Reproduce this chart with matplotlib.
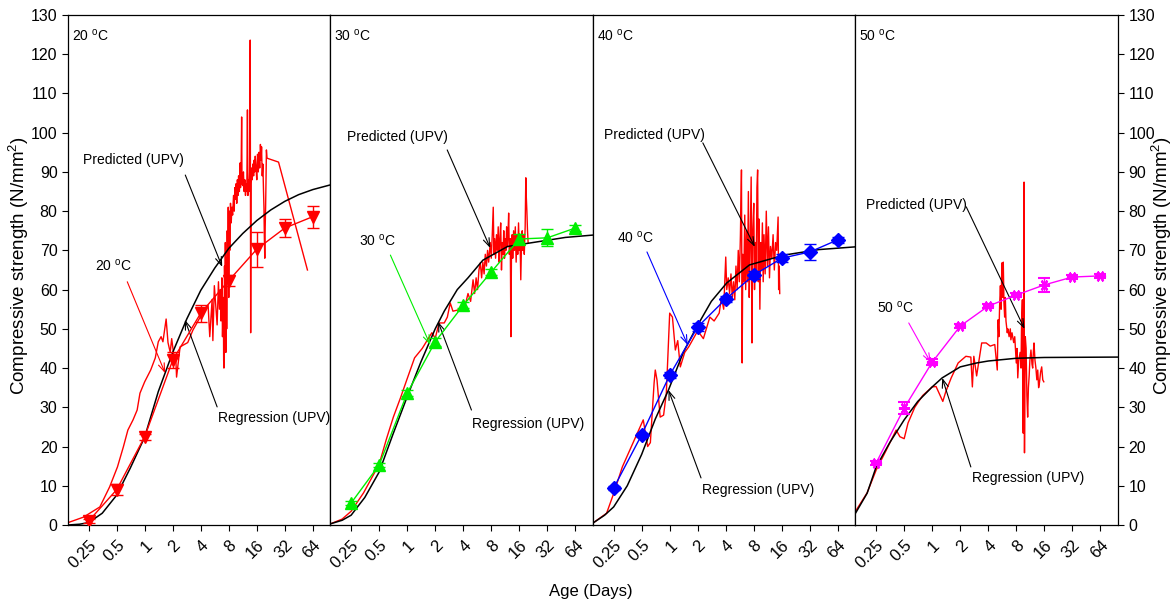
import matplotlib
matplotlib.use("Agg")
import matplotlib.pyplot as plt

plt.rcParams['font.family'] = ['Liberation Sans', 'DejaVu Sans']
plt.rcParams['mathtext.fontset'] = 'custom'
plt.rcParams['mathtext.rm'] = 'Liberation Sans'
plt.rcParams['mathtext.it'] = 'Liberation Sans:italic'

# measured cube strength (mean and spread) at each test age
test_age = [0.25, 0.5, 1, 2, 4, 8, 16, 32, 64]
cube20 = [1, 9, 22.5, 42, 54, 62.3, 70.3, 75.7, 78.6]
err20 = [0.5, 1.4, 0.8, 2.0, 2.2, 1.5, 4.5, 2.3, 2.8]
cube30 = [5.6, 15.3, 33.6, 46.7, 56, 64.5, 72.9, 73.2, 75.7]
err30 = [0.5, 0.5, 0.8, 1.0, 0.8, 0.8, 1.2, 2.2, 0.8]
cube40 = [9.4, 23, 38.2, 50.5, 57.6, 63.7, 68, 69.6, 72.7]
err40 = [0.5, 0.5, 0.8, 1.0, 0.8, 1.0, 1.0, 2.1, 0.8]
cube50 = [15.8, 29.8, 41.5, 50.7, 55.8, 58.6, 61.2, 63.2, 63.5]
err50 = [0.5, 1.5, 0.8, 0.5, 0.5, 0.5, 1.8, 0.5, 0.5]

# strength predicted from pulse velocity readings
upv20_age = [0.15, 0.22, 0.33, 0.42, 0.51, 0.59, 0.66, 0.75, 0.83, 0.89, 1.0, 1.16, 1.3,
             1.4, 1.5, 1.57, 1.7, 1.78, 1.88, 1.95, 2.1, 2.15, 2.2, 2.4, 2.9, 3.3, 3.95,
             4.4, 4.8, 5.0, 5.3, 5.4, 5.6,
             6.0, 6.2, 6.35, 6.5, 6.6, 6.75, 6.85, 7.0, 7.05, 7.1, 7.2, 7.3, 7.35, 7.45,
             7.55, 7.6, 7.7, 7.8, 7.9, 8.0, 8.1, 8.2, 8.35, 8.5, 8.65, 8.8, 9.0, 9.15,
             9.3, 9.45, 9.6, 9.75, 9.9, 10.05, 10.2, 10.4, 10.6, 10.7, 10.85, 11.0, 11.1,
             11.3, 11.5, 11.7, 11.9, 12.1, 12.3, 12.5, 12.7, 12.85, 13.0, 13.2, 13.4, 13.6,
             13.75, 13.9, 14.1, 14.3, 14.5, 14.8, 15.0, 15.2, 15.4, 15.7, 16.0, 16.3, 16.6,
             16.9, 17.2, 17.5, 17.8, 18.0, 18.3, 18.6, 18.9, 19.1, 19.3, 19.5, 19.7, 19.9,
             20.1, 20.3, 20.6, 27.4, 56]
upv20_val = [0.6, 2, 4.6, 9.7, 14.8, 19.9, 24.2, 26.8, 29.3, 33.6, 36.5, 39.5, 42.6,
             46.7, 48, 46.7, 52.5, 46.5, 44, 47.5, 41.5, 43.5, 37.7, 45.4, 46.5, 49.7, 53,
             55, 56, 48, 57.5, 47, 61,
             51, 62, 55, 60, 52, 63, 48, 58, 42, 40, 66, 55, 72, 44,
             68, 50, 75, 62, 81, 58, 80, 70, 82, 77, 81, 79, 84, 80,
             86, 83, 87, 82, 88, 84, 89, 85, 92.3, 86, 89, 104, 87,
             86.5, 90, 85, 88, 84, 87, 85, 105.8, 84, 88, 85, 90, 123.6,
             49, 87, 91, 88, 92, 89, 93, 90, 94, 91, 88, 94.5, 90,
             95, 91, 97, 93, 96.4, 89, 92, 85, 81, 73, 68, 76, 81,
             88, 95.6, 93.5, 92.5, 65]

upv30_age = [0.15, 0.2, 0.25, 0.34, 0.5, 0.6, 0.71, 0.85, 0.99, 1.2, 1.45, 1.84, 2.0, 2.2,
             2.5, 2.7, 2.9, 3.1, 3.8, 4.2, 4.5, 4.8,
             5.1, 5.3, 5.5, 5.7, 5.9, 6.1, 6.3, 6.5, 6.7, 6.9, 7.1, 7.3, 7.5, 7.8, 8.0,
             8.2, 8.4, 8.55, 8.7, 8.9, 9.1, 9.3, 9.5, 9.7, 9.9, 10.1, 10.3, 10.5, 10.7,
             10.9, 11.1, 11.3, 11.5, 11.7, 11.9, 12.1, 12.3, 12.5, 12.8, 13.0, 13.2, 13.4,
             13.6, 13.9, 14.2, 14.5, 14.8, 15.1, 15.4, 15.7, 16.0, 16.3, 16.6, 16.9, 17.2,
             17.5, 17.8, 18.1, 18.5, 18.8, 19.0, 19.3, 19.6, 19.9]
upv30_val = [0.3, 1.5, 3.5, 8.2, 15.5, 22, 27.5, 32.5, 37, 42.6, 45, 49, 47.6, 51.5,
             51.5, 53, 56.6, 54.5, 55, 56, 59, 57,
             62.5, 59, 63, 60, 65, 66.8, 63, 67, 64, 69, 66, 70, 67, 72, 68,
             74, 81, 69, 73, 68, 74, 70, 76, 67, 73, 77, 65, 72, 69,
             75, 68, 73, 70, 76, 71, 74, 79.5, 69, 73, 48, 71, 74,
             68, 75, 70, 76, 67, 74, 69, 77, 70, 73, 62.5, 72, 75,
             70, 74, 69, 76, 88.5, 84, 80, 75, 72]

upv40_age = [0.15, 0.21, 0.25, 0.31, 0.43, 0.52, 0.58, 0.62, 0.68, 0.7, 0.73, 0.79, 0.86,
             0.92, 1.0, 1.07, 1.15, 1.22, 1.3, 1.45, 1.6, 2.0, 2.3, 2.7, 3.0, 3.4, 3.6,
             3.8, 4.0, 4.1, 4.25, 4.4, 4.55, 4.7, 4.85, 5.0, 5.15, 5.3, 5.45, 5.6, 5.75,
             5.9, 6.0, 6.1, 6.25, 6.4, 6.55, 6.7, 6.85, 7.0, 7.15, 7.3, 7.5, 7.65, 7.8,
             8.0, 8.15, 8.3, 8.5, 8.65, 8.8, 8.95, 9.1, 9.3, 9.5, 9.7, 9.9, 10.1, 10.3,
             10.6, 10.9, 11.2, 11.5, 11.8, 12.1, 12.5, 12.9, 13.3, 13.7, 14.1, 14.6, 14.8,
             15.0, 15.2]
upv40_val = [0.5, 3, 8, 14.8, 22.4, 26.8, 20, 21, 36.2, 39.5, 37, 27.5, 28,
             33.6, 54, 53, 44.6, 47, 40.3, 44, 45.4, 49.5, 47.5, 53, 52, 54, 58,
             55, 68.3, 60, 63, 59, 64, 58, 62, 57.4, 66, 60, 70, 62, 74,
             90.5, 41.3, 69, 62, 79, 60, 75, 62, 85, 58, 70, 88.7, 46.4, 75,
             82, 60, 72, 65, 86, 90.5, 62, 78, 55, 72, 65, 77, 62, 74,
             64, 80, 66, 76, 63, 71, 68, 74, 65, 72, 70, 78.5, 60,
             66, 59]

upv50_age = [0.15, 0.2, 0.25, 0.32, 0.41, 0.45, 0.5, 0.55, 0.65, 0.79, 1.0, 1.1, 1.25,
             1.3, 1.4, 1.6, 1.9, 2.3, 2.6, 2.7, 2.8, 3.0, 3.4, 3.8, 4.2, 4.7,
             5.0, 5.1, 5.2, 5.3, 5.4, 5.5, 5.6, 5.7, 5.8, 5.9, 6.0, 6.1, 6.2, 6.4, 6.5,
             6.7, 6.9, 7.0, 7.2, 7.5, 7.7, 8.0, 8.15, 8.3, 8.5, 8.8, 9.0, 9.1, 9.3, 9.4,
             9.5, 9.6, 9.7, 9.75, 9.8, 9.9, 10.0, 10.2, 10.4, 10.6, 10.8, 11.0, 11.2, 11.5,
             11.8, 12.0, 12.2, 12.4, 12.7, 13.0, 13.3, 13.6, 13.9, 14.2, 14.6, 15.0, 15.4,
             15.8]
upv50_val = [3.5, 8.2, 14, 19, 24.2, 22.5, 22, 26, 30, 33, 35.2, 35.3, 32.4,
             31.5, 34, 37.5, 41.3, 43, 42.8, 35.2, 43, 38, 46.4, 46.4, 45.6, 46,
             39.5, 52.3, 48, 56, 61, 55, 66.8, 58, 67, 56.6, 53, 58, 52, 49, 50,
             48, 50, 47.2, 49, 46.5, 48, 41.3, 45, 37.5, 42, 44, 40, 50, 57.4, 30,
             23.4, 55, 87.4, 40, 18.4, 35, 48, 45, 33, 27.5, 35, 38, 42, 44.6,
             41, 40, 44, 46.4, 42, 40, 37, 39.5, 35, 36.3, 39, 40.3, 37,
             36.5]

# regression curves fitted to the pulse velocity data
reg20_age = [0.15, 0.2, 0.25, 0.35, 0.5, 0.7, 1, 1.4, 2, 2.83, 4, 5.66, 8, 11.3, 16, 22.6, 32, 45, 64, 99]
reg20_val = [0, 0.2, 0.6, 3, 7.6, 14.5, 22.4, 34, 44, 52.5, 59.8, 65.5, 70.5, 74.3, 77.6, 80.3, 82.5, 84.2, 85.5, 86.7]
reg30_age = [0.15, 0.2, 0.25, 0.35, 0.5, 0.7, 1, 1.4, 2, 2.5, 3.45, 4.5, 6.5, 12, 27, 50, 99]
reg30_val = [0.3, 1.2, 2.5, 7, 13.5, 23, 32.7, 41.5, 50, 54.5, 60, 63, 67.5, 71, 72.3, 73.3, 73.9]
reg40_age = [0.15, 0.2, 0.25, 0.35, 0.5, 0.7, 0.97, 1.4, 1.95, 2.8, 4.1, 7.2, 17, 40, 99]
reg40_val = [0.5, 2.5, 4.6, 10, 18, 27, 34.4, 44, 50.5, 57, 61.7, 66.3, 68.8, 70.2, 70.9]
reg50_age = [0.15, 0.2, 0.25, 0.35, 0.5, 0.7, 1, 1.28, 2, 3, 4, 8, 16, 99]
reg50_val = [3, 8.1, 14.8, 21, 26.8, 31.5, 35.2, 37.5, 40.3, 41.3, 41.8, 42.5, 42.7, 42.8]

temps = ['20', '30', '40', '50']
tick_labels = ['0.25', '0.5', '1', '2', '4', '8', '16', '32', '64']

panels = [
    dict(cube=cube20, err=err20, color='red', marker='v', ms=8, mew=1,
         upv=(upv20_age, upv20_val), reg=(reg20_age, reg20_val),
         pred=((0.22, 93), (2.73, 89.2), (6.8, 65.8)),
         lab=((0.29, 66), (0.65, 62), (1.66, 38.7)),
         regr=((6.2, 27.3), (6.0, 30.1), (2.7, 52.3))),
    dict(cube=cube30, err=err30, color='#00ee00', marker='^', ms=8, mew=1,
         upv=(upv30_age, upv30_val), reg=(reg30_age, reg30_val),
         pred=((0.226, 98.9), (2.69, 95.6), (7.8, 70.6)),
         lab=((0.30, 72.4), (0.66, 68.8), (1.77, 45.9)),
         regr=((5.0, 25.7), (4.9, 29.3), (2.15, 51.8))),
    dict(cube=cube40, err=err40, color='blue', marker='D', ms=7, mew=1,
         upv=(upv40_age, upv40_val), reg=(reg40_age, reg40_val),
         pred=((0.195, 99.4), (2.27, 97.4), (8.2, 70.9)),
         lab=((0.27, 73.2), (0.57, 69.6), (1.56, 45.9)),
         regr=((2.2, 8.9), (2.17, 12), (0.97, 34.4))),
    dict(cube=cube50, err=err50, color='magenta', marker=(6, 2, 90), ms=8, mew=1.5,
         upv=(upv50_age, upv50_val), reg=(reg50_age, reg50_val),
         pred=((0.195, 81.6), (2.32, 81.1), (9.8, 50)),
         lab=((0.256, 55.3), (0.56, 51.5), (0.97, 41.3)),
         regr=((2.69, 12), (2.6, 14.8), (1.28, 37.5))),
]

fig, axes = plt.subplots(1, 4, figsize=(11.74, 6.04), dpi=100, sharey=True)
fig.subplots_adjust(left=0.0579, right=0.9523, top=0.9752, bottom=0.1308, wspace=0)

ylabel = 'Compressive strength (N/mm$^{2}$)'


def arrow(ax, start, tip, color):
    ax.annotate('', xy=tip, xytext=start,
                arrowprops=dict(arrowstyle='->,head_length=0.6,head_width=0.22',
                                color=color, lw=0.8, shrinkA=0, shrinkB=0,
                                mutation_scale=10))


for ax, t, p in zip(axes, temps, panels):
    ax.plot(p['upv'][0], p['upv'][1], color='red', lw=1.0, zorder=2)
    ax.plot(p['reg'][0], p['reg'][1], color='black', lw=1.1, zorder=3)
    ax.errorbar(test_age, p['cube'], yerr=p['err'], fmt='-', marker=p['marker'],
                color=p['color'], ms=p['ms'], mew=p['mew'], lw=1.0, elinewidth=1.0,
                capsize=4, capthick=1.0, zorder=4)

    ax.set_xscale('log', base=2)
    ax.set_xlim(0.15, 99)
    ax.set_ylim(0, 130)
    ax.set_xticks(test_age)
    ax.set_xticklabels(tick_labels, rotation=45, ha='right', va='top',
                       rotation_mode='anchor', fontsize=12)
    ax.minorticks_off()
    ax.tick_params(axis='x', direction='out', length=4, width=0.8, pad=5)
    ax.tick_params(axis='y', direction='out', length=4, width=0.8, labelsize=11.5)

    ax.text(0.015, 0.976, t + r' $^{\mathrm{o}}$C', transform=ax.transAxes,
            ha='left', va='top', fontsize=10)

    # labelled arrows: predicted curve, measured series, regression curve
    (tx, ty), s, tip = p['pred']
    ax.text(tx, ty, 'Predicted (UPV)', ha='left', va='center', fontsize=10)
    arrow(ax, s, tip, 'black')
    (tx, ty), s, tip = p['lab']
    ax.text(tx, ty, t + r' $^{\mathrm{o}}$C', ha='left', va='center', fontsize=10)
    arrow(ax, s, tip, p['color'])
    (tx, ty), s, tip = p['regr']
    ax.text(tx, ty, 'Regression (UPV)', ha='left', va='center', fontsize=10)
    arrow(ax, s, tip, 'black')

    for sp in ax.spines.values():
        sp.set_linewidth(0.9)

axes[0].set_yticks(range(0, 131, 10))
for ax in axes[1:3]:
    ax.tick_params(axis='y', left=False, labelleft=False)
axes[3].tick_params(axis='y', left=False, labelleft=False, right=True, labelright=True)

fig.text(0.0165, 0.56, ylabel, rotation=90, ha='center', va='center', fontsize=13.5)
fig.text(0.9895, 0.56, ylabel, rotation=90, ha='center', va='center', fontsize=13.5)
fig.text(0.503, 0.008, 'Age (Days)', ha='center', va='bottom', fontsize=12)

fig.savefig('out.png', dpi=100)
